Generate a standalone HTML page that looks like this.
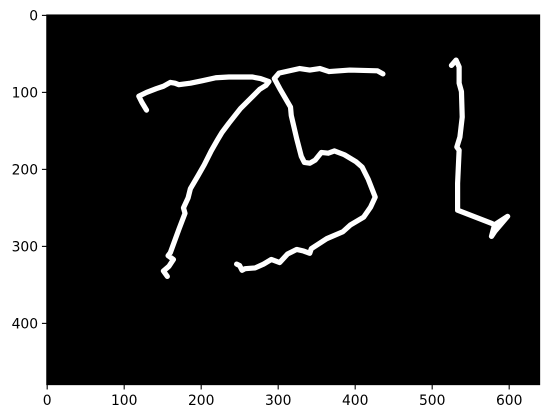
<!DOCTYPE html>
<html>
<head>
<meta charset="utf-8">
<style>
html,body{margin:0;padding:0;background:#fff;}
svg{display:block;}
text{font-family:"DejaVu Sans","Liberation Sans",sans-serif;font-size:13.89px;fill:#000;}
</style>
</head>
<body>
<svg id="chart" width="549" height="418" viewBox="0 0 549 418" xmlns="http://www.w3.org/2000/svg">
  <rect x="46.8" y="15" width="492.8" height="369.6" fill="#000"></rect>
  <g id="strokes"></g>
  <rect x="46.8" y="15" width="492.8" height="369.6" fill="none" stroke="#000" stroke-width="1.1"></rect>
  <g id="x-axis"></g>
  <g id="y-axis"></g>
</svg>
<script>
const xTickValues = [0, 100, 200, 300, 400, 500, 600];
const yTickValues = [0, 100, 200, 300, 400];

const strokeSeven = [[129,123],[123,113],[119,105],[129,100],[142,95],[151,92],[160,87],[166,88],[171,90],[186,88],[201,85],[219,81],[236,80],[255,80],[266,80],[277,82],[288,86],[284,91],[276,96],[265,107],[251,121],[236,140],[227,152],[221,162],[213,176],[204,194],[196,208],[186,225],[183,237],[177,250],[179,257],[171,278],[160,308],[157,312],[164,317],[158,326],[151,332],[156,339]];
const strokeFive = [[436,76],[429,72],[393,71],[366,73],[354,69],[341,71],[328,69],[301,75],[295,82],[302,95],[316,119],[317,130],[324,160],[330,183],[334,191],[341,192],[348,188],[356,178],[365,179],[373,176],[386,181],[401,190],[409,197],[417,213],[426,236],[420,249],[411,262],[394,272],[384,281],[363,290],[343,303],[341,309],[333,306],[324,304],[312,310],[302,321],[291,317],[281,323],[270,328],[257,329],[253,331],[250,325],[246,323]];
const strokeL = [[525,65],[531,58],[535,67],[535,88],[538,99],[539,132],[536,158],[532,171],[535,175],[533,218],[533,253],[577,270],[581,272],[598,261],[581,281],[577,287],[581,272]];

const svgNS = 'http://www.w3.org/2000/svg';
const imageWidth = 640;
const imageHeight = 480;
const axesLeft = 46.8;
const axesTop = 15;
const axesWidth = 492.8;
const axesHeight = 369.6;
function xScale(v) { return axesLeft + (v + 0.5) / imageWidth * axesWidth; }
function yScale(v) { return axesTop + (v + 0.5) / imageHeight * axesHeight; }

function drawStroke(points, name) {
  const line = document.createElementNS(svgNS, 'polyline');
  line.setAttribute('points', points.map(p => xScale(p[0]).toFixed(2) + ',' + yScale(p[1]).toFixed(2)).join(' '));
  line.setAttribute('fill', 'none');
  line.setAttribute('stroke', '#fff');
  line.setAttribute('stroke-width', '5.2');
  line.setAttribute('stroke-linecap', 'round');
  line.setAttribute('stroke-linejoin', 'round');
  
  
  document.getElementById('strokes').appendChild(line);
}
drawStroke(strokeSeven, 'digit-seven-stroke');
drawStroke(strokeFive, 'digit-five-stroke');
drawStroke(strokeL, 'letter-l-stroke');

const xAxis = document.getElementById('x-axis');
xTickValues.forEach(function (v) {
  const px = xScale(v);
  const tick = document.createElementNS(svgNS, 'line');
  tick.setAttribute('x1', px);
  tick.setAttribute('x2', px);
  tick.setAttribute('y1', axesTop + axesHeight);
  tick.setAttribute('y2', axesTop + axesHeight + 4.86);
  tick.setAttribute('stroke', '#000');
  tick.setAttribute('stroke-width', '1.1');
  
  
  xAxis.appendChild(tick);
  const label = document.createElementNS(svgNS, 'text');
  label.setAttribute('x', px);
  label.setAttribute('y', 405);
  label.setAttribute('text-anchor', 'middle');
  label.textContent = String(v);
  
  
  xAxis.appendChild(label);
});

const yAxis = document.getElementById('y-axis');
yTickValues.forEach(function (v) {
  const py = yScale(v);
  const tick = document.createElementNS(svgNS, 'line');
  tick.setAttribute('x1', axesLeft);
  tick.setAttribute('x2', axesLeft - 4.86);
  tick.setAttribute('y1', py);
  tick.setAttribute('y2', py);
  tick.setAttribute('stroke', '#000');
  tick.setAttribute('stroke-width', '1.1');
  
  
  yAxis.appendChild(tick);
  const label = document.createElementNS(svgNS, 'text');
  label.setAttribute('x', axesLeft - 8.7);
  label.setAttribute('y', py + 5.1);
  label.setAttribute('text-anchor', 'end');
  label.textContent = String(v);
  
  
  yAxis.appendChild(label);
});
</script>
</body>
</html>
